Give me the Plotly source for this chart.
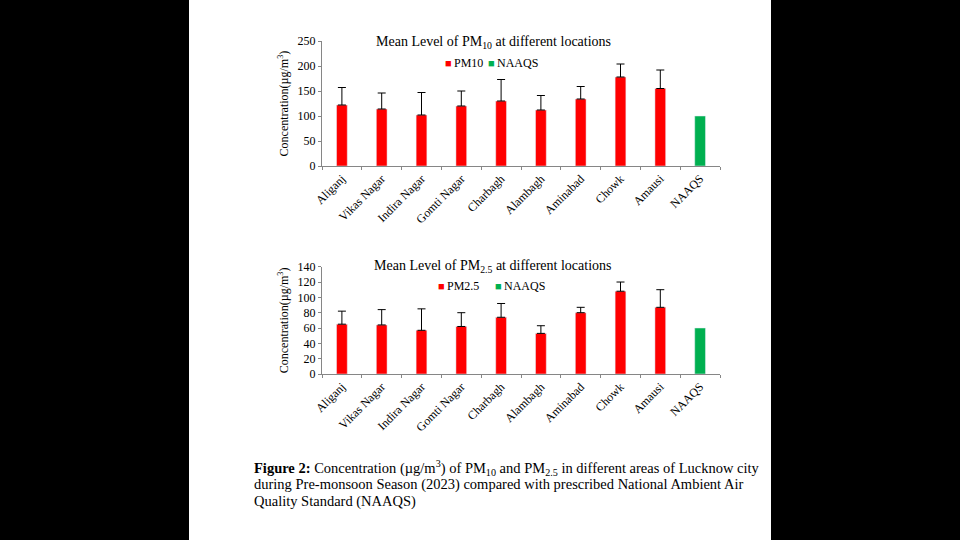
import plotly.graph_objects as go

# --- data ---
locations = ["Aliganj", "Vikas Nagar", "Indira Nagar", "Gomti Nagar", "Charbagh",
             "Alambagh", "Aminabad", "Chowk", "Amausi"]
pm10_mean = [122, 114, 102, 120, 130, 112, 134, 178, 155]
pm10_sd = [35, 32, 45, 30, 43, 29, 25, 26, 37]
pm25_mean = [65, 64, 57, 62, 74, 53, 80, 108, 87]
pm25_sd = [17, 20, 28, 18, 18, 10, 7, 12, 23]
naaqs_label = ["NAAQS"]
naaqs_pm10 = [100]
naaqs_pm25 = [60]

pm10_ticks = [0, 50, 100, 150, 200, 250]
pm25_ticks = [0, 20, 40, 60, 80, 100, 120, 140]

RED = "#FF0000"
GREEN = "#00B050"
FONT = "Liberation Serif"
W, H = 960, 540


def py(pix):
    """pixel row -> paper y"""
    return 1 - pix / H


def px(pix):
    return pix / W


fig = go.Figure()

err = dict(type="data", symmetric=False, color="black", thickness=1, width=4)

fig.add_trace(go.Bar(x=locations, y=pm10_mean, name="PM10", marker_color=RED,
                     width=0.27, error_y=dict(err, array=pm10_sd, arrayminus=[0] * len(pm10_sd)),
                     xaxis="x", yaxis="y"))
fig.add_trace(go.Bar(x=naaqs_label, y=naaqs_pm10, name="NAAQS", marker_color=GREEN,
                     width=0.27, xaxis="x", yaxis="y"))
fig.add_trace(go.Bar(x=locations, y=pm25_mean, name="PM2.5", marker_color=RED,
                     width=0.27, error_y=dict(err, array=pm25_sd, arrayminus=[0] * len(pm25_sd)),
                     xaxis="x2", yaxis="y2"))
fig.add_trace(go.Bar(x=naaqs_label, y=naaqs_pm25, name="NAAQS", marker_color=GREEN,
                     width=0.27, xaxis="x2", yaxis="y2"))

axis_common = dict(showline=True, linecolor="#868686", linewidth=1, showgrid=False,
                   zeroline=False, ticks="outside", ticklen=3, tickcolor="#868686",
                   automargin=False,
                   tickfont=dict(family=FONT, size=12, color="black"))
xcat = locations + naaqs_label
ytitle = dict(text="Concentration(µg/m<sup>3</sup>)", standoff=6,
              font=dict(family=FONT, size=12, color="black"))

fig.update_layout(
    autosize=True,
    margin=dict(l=0, r=0, t=0, b=0),
    paper_bgcolor="black",
    plot_bgcolor="white",
    barmode="overlay",
    showlegend=False,
    font=dict(family=FONT, color="black"),
    xaxis=dict(axis_common, domain=[px(322), px(720)], anchor="y", tickangle=-45,
               categoryorder="array", categoryarray=xcat, tickson="boundaries",
               range=[-0.5, 9.5]),
    yaxis=dict(axis_common, domain=[py(166), py(41)], anchor="x", range=[0, 250],
               tickvals=pm10_ticks, title=ytitle),
    xaxis2=dict(axis_common, domain=[px(322), px(720)], anchor="y2", tickangle=-45,
                categoryorder="array", categoryarray=xcat, tickson="boundaries",
                range=[-0.5, 9.5]),
    yaxis2=dict(axis_common, domain=[py(374), py(266.7)], anchor="x2", range=[0, 140],
                tickvals=pm25_ticks, title=ytitle),
)

# white page behind the charts
fig.add_shape(type="rect", xref="paper", yref="paper", x0=px(189), x1=px(771), y0=0, y1=1,
              fillcolor="white", line_width=0, layer="below")


def note(text, x, y, size=14, color="black", xanchor="center"):
    fig.add_annotation(text=text, xref="paper", yref="paper", x=px(x), y=py(y),
                       xanchor=xanchor, yanchor="middle", showarrow=False,
                       font=dict(family=FONT, size=size, color=color))


# chart titles
note("Mean Level of PM<sub>10</sub> at different locations", 493, 43)
note("Mean Level of PM<sub>2.5</sub> at different locations", 493, 266)

# legends drawn as text: coloured square + series name
for row, series in ((63, "PM10"), (286, "PM2.5")):
    x0 = 443 if series == "PM10" else 436
    note("■", x0, row, size=11, color=RED, xanchor="left")
    note(series, x0 + 9, row, size=12, xanchor="left")
    x1 = 486 if series == "PM10" else 493
    note("■", x1, row, size=11, color=GREEN, xanchor="left")
    note("NAAQS", x1 + 9, row, size=12, xanchor="left")

# figure caption
caption_lines = [
    "<b>Figure 2:</b> Concentration (µg/m<sup>3</sup>) of PM<sub>10</sub> and PM<sub>2.5</sub> "
    "in different areas of Lucknow city",
    "during Pre-monsoon Season (2023) compared with prescribed National Ambient Air",
    "Quality Standard (NAAQS)",
]
for i, line in enumerate(caption_lines):
    note(line, 252, 468 + 16.5 * i, size=14.5, xanchor="left")

# fill the browser window exactly: no body margin, no scrollbars
fit_page = (
    "document.documentElement.style.margin='0';"
    "document.documentElement.style.overflow='hidden';"
    "document.body.style.margin='0';"
    "document.body.style.background='black';"
    "Plotly.Plots.resize(document.getElementById('{plot_id}'));"
)
fig.write_html("out.html", config={"displayModeBar": False},
               default_width="100vw", default_height="100vh", post_script=fit_page)
